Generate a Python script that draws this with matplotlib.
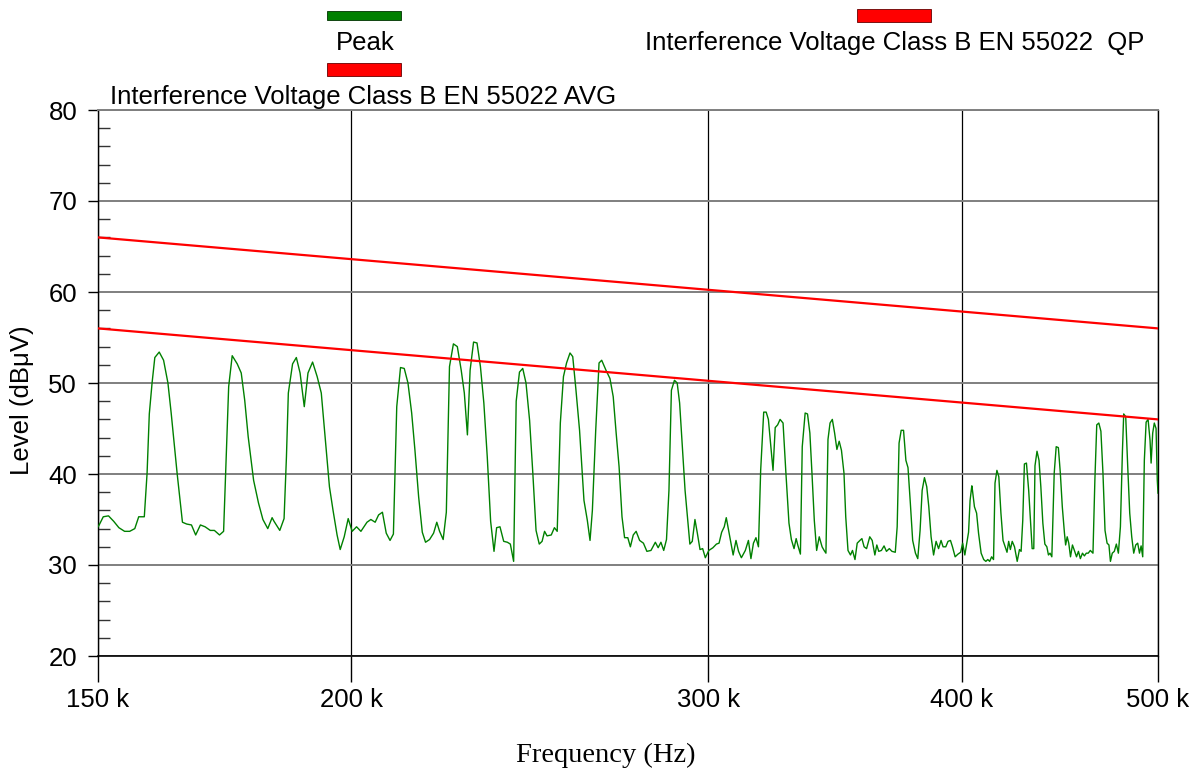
#--EMI conducted emission scan, 150 kHz - 500 kHz, with EN 55022 class B limits

import matplotlib.pyplot as plt
from matplotlib.patches import Rectangle
from matplotlib.ticker import FixedLocator, NullLocator, MultipleLocator, FixedFormatter

#--Peak trace (kHz, dBuV)
freq_khz = [150.0, 150.2, 150.9, 151.8, 152.7, 153.6, 154.6, 155.5, 156.4, 157.1, 158.1, 158.6, 159.0,
            159.5, 160.0, 160.8, 161.6, 162.4, 163.0, 163.5, 164.1, 164.5, 165.1, 165.9, 166.8,
            167.6, 168.5, 169.4, 170.4, 171.2, 172.2, 173.0, 173.4, 174.0, 174.7, 175.7, 176.5,
            177.2, 177.9, 179.0, 180.0, 180.9, 181.9, 182.8, 183.2, 184.4, 185.3, 185.8, 186.2,
            187.1, 187.9, 188.7, 189.6, 190.4, 191.4, 192.4, 193.3, 194.2, 195.1, 195.9, 196.8,
            197.5, 198.4, 199.3, 200.2, 201.2, 202.2, 203.6, 204.5, 205.5, 206.3, 207.2, 208.1,
            209.0, 209.8, 210.6, 211.5, 212.4, 213.3, 214.2, 215.0, 215.9, 216.8, 217.6, 218.6,
            219.6, 220.4, 221.1, 222.0, 222.8, 223.6, 224.6, 225.6, 226.6, 227.4, 228.2, 228.9,
            229.8, 230.7, 231.6, 232.5, 233.4, 234.3, 235.2, 235.9, 236.8, 237.8, 238.8, 239.6,
            240.5, 241.2, 242.1, 243.0, 243.9, 244.9, 245.8, 246.7, 247.6, 248.4, 249.1, 249.8,
            251.0, 251.9, 252.7, 253.6, 254.5, 255.4, 256.4, 257.2, 258.1, 259.2, 260.5, 261.5,
            262.3, 263.0, 264.0, 265.0, 265.8, 267.1, 268.3, 269.3, 270.2, 271.1, 272.0, 272.8,
            273.8, 274.6, 275.5, 276.4, 277.5, 278.7, 279.8, 281.1, 282.5, 283.4, 284.3, 285.2,
            286.1, 286.9, 287.7, 288.7, 289.6, 290.4, 291.3, 292.2, 293.0, 293.8, 294.6, 295.5,
            296.3, 297.2, 298.1, 299.0, 300.2, 301.6, 302.8, 303.7, 304.6, 305.5, 306.2, 307.2,
            308.6, 309.6, 310.5, 311.5, 312.9, 314.0, 314.9, 315.8, 316.7, 317.6, 318.4, 319.5,
            320.4, 321.2, 322.1, 322.9, 323.7, 324.6, 325.5, 326.6, 327.6, 328.8, 329.7, 330.7,
            331.5, 332.1, 333.1, 333.8, 334.9, 335.8, 336.7, 337.5, 338.4, 339.3, 340.3, 341.4,
            342.2, 342.9, 343.7, 344.5, 345.4, 346.3, 347.2, 348.1, 349.0, 350.0, 350.7, 351.6,
            352.6, 353.4, 354.4, 355.3, 356.4, 357.2, 358.1, 359.1, 360.4, 361.4, 362.5, 363.3,
            364.1, 365.2, 366.3, 367.3, 368.5, 369.6, 371.0, 371.8, 372.6, 373.5, 374.5, 375.5,
            376.4, 377.4, 378.4, 379.6, 380.6, 381.6, 382.5, 383.5, 384.5, 385.4, 386.4, 387.5,
            388.6, 389.7, 390.8, 391.7, 392.9, 393.9, 395.0, 395.9, 397.1, 398.4, 399.6, 400.5,
            401.5, 402.4, 403.2, 403.9, 404.7, 405.0, 405.9, 406.9, 407.8, 409.0, 410.2, 411.2,
            412.1, 413.0, 413.9, 414.8, 415.5, 416.4, 417.3, 418.3, 419.3, 420.3, 421.2, 422.0,
            422.8, 423.7, 424.8, 426.1, 427.2, 428.0, 428.8, 429.6, 430.6, 431.7, 432.6, 433.4,
            434.2, 434.8, 435.8, 436.8, 437.7, 438.7, 439.7, 440.7, 441.5, 442.3, 443.2, 444.4,
            445.4, 446.5, 447.5, 448.5, 449.6, 450.2, 451.0, 451.8, 452.7, 453.7, 454.7, 455.8,
            456.8, 457.8, 458.9, 459.9, 460.9, 461.9, 463.0, 464.4, 465.4, 466.4, 467.5, 468.6,
            469.7, 470.8, 471.9, 472.9, 473.7, 474.7, 475.8, 476.9, 478.0, 479.1, 480.2, 480.9,
            482.0, 483.1, 484.2, 485.3, 486.4, 487.5, 488.6, 489.6, 490.5, 491.4, 492.3, 493.3,
            494.4, 495.5, 496.1, 497.0, 497.9, 498.9, 499.6, 500.0]
level_dbuv = [34.2, 34.4, 35.3, 35.4, 34.8, 34.1, 33.7, 33.7, 34.0, 35.3, 35.3, 40.1, 46.6,
              50.0, 52.8, 53.4, 52.5, 50.0, 46.7, 43.7, 40.1, 37.9, 34.7, 34.5, 34.4,
              33.3, 34.4, 34.2, 33.8, 33.8, 33.3, 33.7, 40.1, 49.6, 53.0, 52.1, 51.1,
              48.1, 44.1, 39.3, 36.8, 35.0, 34.0, 35.2, 34.8, 33.8, 35.1, 41.9, 48.9,
              52.1, 52.8, 51.1, 47.4, 51.1, 52.3, 50.7, 48.9, 43.7, 38.6, 36.0, 33.3,
              31.7, 33.1, 35.1, 33.7, 34.2, 33.7, 34.7, 35.0, 34.7, 35.5, 35.8, 33.5,
              32.7, 33.4, 47.4, 51.7, 51.6, 50.0, 46.7, 42.6, 37.5, 33.6, 32.5, 32.8,
              33.5, 34.7, 33.7, 32.8, 35.8, 51.8, 54.3, 54.0, 51.4, 48.9, 44.3, 51.4,
              54.5, 54.4, 51.8, 47.8, 41.9, 34.8, 31.5, 34.1, 34.2, 32.6, 32.5, 32.3,
              30.4, 48.0, 51.2, 51.6, 50.0, 45.9, 40.1, 33.8, 32.3, 32.6, 33.7, 33.2,
              33.3, 34.1, 33.7, 45.6, 50.7, 52.2, 53.3, 52.9, 49.4, 44.8, 37.1, 34.9,
              32.7, 36.0, 44.8, 52.2, 52.5, 51.4, 50.5, 48.5, 44.5, 40.8, 35.3, 33.0,
              33.0, 32.0, 33.3, 33.7, 32.7, 32.4, 31.5, 31.6, 32.5, 31.9, 32.5, 31.6,
              32.8, 38.2, 49.2, 50.3, 50.0, 47.8, 43.0, 38.2, 35.3, 32.3, 32.6, 35.0,
              33.5, 31.7, 31.8, 30.8, 31.6, 31.9, 32.3, 32.4, 33.6, 34.2, 35.2, 33.5,
              31.1, 32.7, 31.5, 30.8, 31.6, 32.7, 30.7, 32.4, 33.0, 32.0, 40.4, 46.8,
              46.8, 46.0, 43.0, 40.4, 45.1, 45.4, 46.0, 45.6, 40.4, 34.6, 32.8, 31.8,
              32.9, 32.2, 31.2, 43.0, 46.7, 46.6, 44.5, 40.1, 34.9, 31.6, 33.1, 32.0,
              31.6, 31.3, 43.8, 45.6, 46.0, 44.5, 42.7, 43.6, 42.6, 40.1, 35.3, 31.6,
              31.1, 31.6, 30.6, 32.4, 32.7, 32.9, 32.0, 31.8, 33.1, 32.7, 31.1, 32.2,
              31.5, 31.6, 32.1, 31.5, 31.8, 31.5, 31.4, 34.2, 43.4, 44.8, 44.8, 41.5,
              40.7, 36.8, 32.7, 31.3, 30.7, 33.8, 38.2, 39.6, 38.6, 36.4, 33.1, 31.1,
              32.6, 31.8, 32.7, 32.0, 32.0, 32.6, 32.7, 32.0, 30.9, 31.2, 31.4, 32.4,
              31.1, 32.4, 33.6, 37.1, 38.7, 38.2, 36.4, 35.7, 33.5, 31.3, 30.6, 30.4,
              30.6, 30.4, 30.9, 30.6, 39.0, 40.4, 39.7, 35.7, 32.7, 32.0, 31.4, 32.6,
              31.7, 32.6, 32.0, 30.4, 31.7, 31.5, 34.9, 41.1, 41.2, 38.2, 34.9, 31.8,
              31.8, 40.9, 42.5, 41.5, 38.6, 34.6, 32.3, 32.0, 31.1, 31.3, 30.9, 40.1,
              43.0, 42.9, 40.1, 36.4, 33.5, 32.2, 33.1, 32.4, 30.9, 32.2, 31.6, 30.9,
              31.5, 30.7, 31.3, 31.0, 31.3, 31.3, 31.6, 31.3, 39.3, 45.4, 45.6, 44.7,
              40.1, 33.8, 32.4, 32.2, 30.4, 31.3, 31.5, 32.3, 31.3, 34.2, 42.5, 46.6,
              46.3, 40.8, 35.7, 33.1, 31.3, 32.2, 32.4, 31.3, 32.1, 30.9, 41.5, 45.7,
              46.0, 43.7, 41.2, 44.5, 45.6, 45.0, 39.3, 37.9]

#--Limit lines (class B, EN 55022)
limit_freq_khz = [150, 500]
qp_limit = [66, 56]
avg_limit = [56, 46]

#--Axis ticks
x_ticks_khz = [150, 200, 300, 400, 500]
x_tick_labels = ["150 k", "200 k", "300 k", "400 k", "500 k"]
y_ticks = [20, 30, 40, 50, 60, 70, 80]

plt.rcParams['font.family'] = ['Liberation Sans', 'DejaVu Sans']
W, H = 1202, 769
fs = 18.5

def fx(px):
  return px / W

def fy(py):
  return 1 - py / H

fig = plt.figure(figsize=(W/100, H/100), dpi=100)
ax = fig.add_axes([fx(98), fy(656), (1158-98)/W, (656-110)/H])

ax.plot([f*1e3 for f in freq_khz], level_dbuv, color='#008000', lw=1.0, zorder=3)
ax.plot([f*1e3 for f in limit_freq_khz], qp_limit, color='#ff0000', lw=1.6, zorder=4)
ax.plot([f*1e3 for f in limit_freq_khz], avg_limit, color='#ff0000', lw=1.6, zorder=4)

ax.set_xscale('log')
ax.set_xlim(150e3, 500e3)
ax.set_ylim(20, 80)
ax.xaxis.set_major_locator(FixedLocator([f*1e3 for f in x_ticks_khz]))
ax.xaxis.set_major_formatter(FixedFormatter(x_tick_labels))
ax.xaxis.set_minor_locator(NullLocator())
ax.yaxis.set_major_locator(FixedLocator(y_ticks))
ax.yaxis.set_minor_locator(MultipleLocator(2))

ax.tick_params(axis='x', which='major', direction='out', length=19, width=1,
               pad=4, labelsize=fs, color='black')
ax.tick_params(axis='y', which='major', direction='out', length=7, width=1,
               pad=8, labelsize=fs, color='black')
ax.tick_params(axis='y', which='minor', direction='in', length=8.5, width=1,
               color='#333333')

#--Grid: grey horizontal, black vertical
ax.set_axisbelow(True)
ax.yaxis.grid(True, which='major', color='#7f7f7f', lw=1.4)
ax.xaxis.grid(True, which='major', color='black', lw=0.9)
ax.spines['top'].set_color('#7f7f7f')
ax.spines['top'].set_linewidth(1.4)
ax.spines['right'].set_linewidth(1.0)
ax.spines['left'].set_linewidth(1.0)
ax.spines['bottom'].set_linewidth(1.2)

#--Axis labels
fig.text(fx(22), fy(400), 'Level (dBμV)', rotation=90, ha='center', va='center', fontsize=fs)
fig.text(fx(606), fy(755), 'Frequency (Hz)', ha='center', va='center', fontsize=20.5,
         family='Liberation Serif')

#--Legend, drawn by hand
fig.add_artist(Rectangle((fx(327), fy(20)), 74/W, 9/H, transform=fig.transFigure,
                         facecolor='#008000', edgecolor='#003300', lw=0.6))
fig.text(fx(365), fy(43), 'Peak', ha='center', va='center', fontsize=fs)
fig.add_artist(Rectangle((fx(327), fy(76)), 74/W, 13/H, transform=fig.transFigure,
                         facecolor='#ff0000', edgecolor='#660000', lw=0.6))
fig.text(fx(110), fy(97), 'Interference Voltage Class B EN 55022 AVG', ha='left', va='center',
         fontsize=fs)
fig.add_artist(Rectangle((fx(857), fy(22)), 74/W, 13/H, transform=fig.transFigure,
                         facecolor='#ff0000', edgecolor='#660000', lw=0.6))
fig.text(fx(895), fy(43), 'Interference Voltage Class B EN 55022  QP', ha='center', va='center',
         fontsize=fs)

fig.savefig('out.png', dpi=100)
